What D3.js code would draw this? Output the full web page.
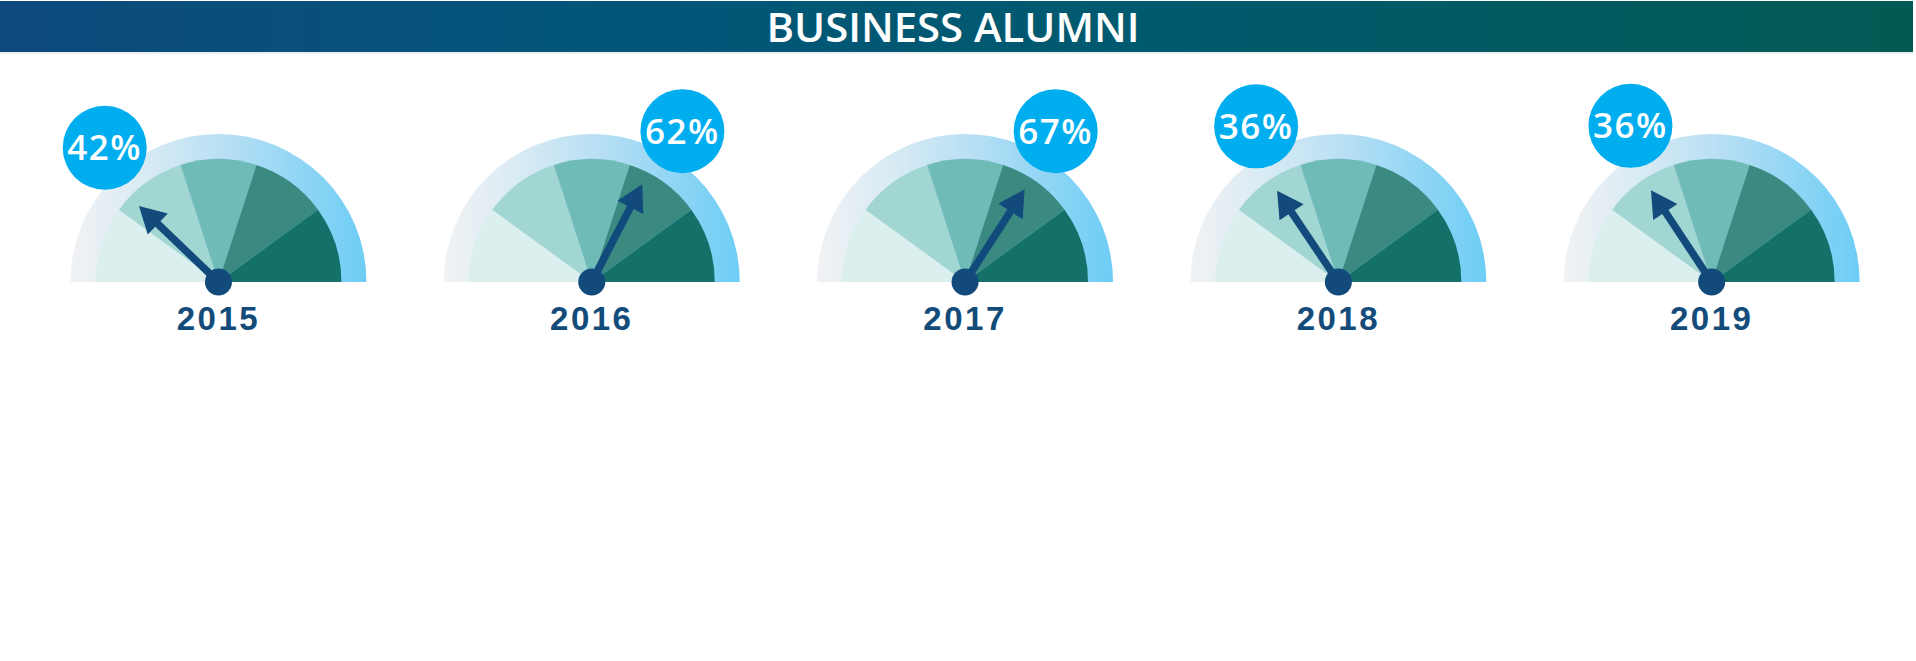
<!DOCTYPE html>
<html>
<head>
<meta charset="utf-8">
<script src="https://cdn.jsdelivr.net/npm/d3@7"></script>
<style>
  html, body { margin: 0; padding: 0; background: #ffffff; }
  svg { display: block; }
</style>
</head>
<body>
<div id="chart"></div>
<script>
// ---- data ----
const title = "BUSINESS ALUMNI";
const years = ["2015", "2016", "2017", "2018", "2019"];
const percentValues = [42, 62, 67, 36, 36];
// where each needle points on the 0–100 gauge dial
const needleReadings = [24.3, 65.2, 68.2, 31.2, 31.4];
const bandBreaks = [0, 20, 40, 60, 80, 100];
const bandColors = ["#dbefee", "#a2d6d3", "#6ebbb8", "#3a8a82", "#137169"];

// ---- layout ----
const W = 1916, H = 661;
const cy = 282;
const rOuter = 148, rInner = 123;
const needleLen = 110, headLen = 26, headHalf = 14.5, shaftW = 7.5;
const bubbleR = 42, bubbleDist = 176;
const navy = "#124a7c";

const svg = d3.select("#chart").append("svg")
  .attr("width", W).attr("height", H);

const defs = svg.append("defs");
const hg = defs.append("linearGradient").attr("id", "headerGrad")
  .attr("x1", "0%").attr("x2", "100%").attr("y1", "0%").attr("y2", "0%");
hg.append("stop").attr("offset", "0%").attr("stop-color", "#0e4a7c");
hg.append("stop").attr("offset", "30%").attr("stop-color", "#03557a");
hg.append("stop").attr("offset", "60%").attr("stop-color", "#005a6e");
hg.append("stop").attr("offset", "100%").attr("stop-color", "#035a54");

const rg = defs.append("linearGradient").attr("id", "ringGrad")
  .attr("x1", "0%").attr("x2", "100%").attr("y1", "0%").attr("y2", "0%");
rg.append("stop").attr("offset", "0%").attr("stop-color", "#f1f2f4");
rg.append("stop").attr("offset", "25%").attr("stop-color", "#d9ebf4");
rg.append("stop").attr("offset", "55%").attr("stop-color", "#b4def4");
rg.append("stop").attr("offset", "100%").attr("stop-color", "#6dcdf5");

// header
svg.append("rect").attr("x", 0).attr("y", 1).attr("width", 1913).attr("height", 51)
  .attr("fill", "url(#headerGrad)");
svg.append("rect").attr("x", 0).attr("y", 52).attr("width", 1913).attr("height", 2)
  .attr("fill", "#e9eff1");
svg.append("text")
  .attr("x", 953).attr("y", 41.5)
  .attr("text-anchor", "middle")
  .attr("font-family", "'Open Sans', 'Liberation Sans', sans-serif")
  .attr("font-weight", 600)
  .attr("font-size", 39)
  .attr("fill", "#ffffff")
  .attr("textLength", 373)
  .attr("lengthAdjust", "spacingAndGlyphs")
  .text(title);

// scales
const xScale = d3.scaleBand().domain(years).range([31.8, 1898.3]);
const angle = d3.scaleLinear().domain([0, 100]).range([-Math.PI / 2, Math.PI / 2]);

const ringArc = d3.arc().innerRadius(0).outerRadius(rOuter)
  .startAngle(angle(0)).endAngle(angle(100));
const bandArc = d3.arc().innerRadius(0).outerRadius(rInner);

const rows = years.map((y, i) => ({
  year: y, pct: percentValues[i], needle: needleReadings[i]
}));

const g = svg.selectAll("g.gauge").data(rows).join("g")
  .attr("class", "gauge")
  .attr("transform", d => `translate(${xScale(d.year) + xScale.bandwidth() / 2},${cy})`);

g.append("path").attr("d", ringArc()).attr("fill", "url(#ringGrad)");

g.selectAll("path.band")
  .data(bandColors.map((c, i) => ({ c, a0: bandBreaks[i], a1: bandBreaks[i + 1] })))
  .join("path")
  .attr("class", "band")
  .attr("d", b => bandArc({ startAngle: angle(b.a0), endAngle: angle(b.a1) }))
  .attr("fill", b => b.c);

// needle
const needle = g.append("g")
  .attr("transform", d => `rotate(${angle(d.needle) * 180 / Math.PI})`);
needle.append("rect")
  .attr("x", -shaftW / 2).attr("y", -(needleLen - headLen + 2))
  .attr("width", shaftW).attr("height", needleLen - headLen + 2)
  .attr("fill", navy);
needle.append("path")
  .attr("d", `M0,${-needleLen} L${-headHalf},${-needleLen + headLen} L${headHalf},${-needleLen + headLen} Z`)
  .attr("fill", navy);
g.append("circle").attr("r", 13.5).attr("fill", navy);

// year labels
g.append("text")
  .attr("x", 0).attr("y", 48)
  .attr("text-anchor", "middle")
  .attr("font-family", "'Liberation Sans', Arial, sans-serif")
  .attr("font-weight", "bold")
  .attr("font-size", 33)
  .attr("letter-spacing", 2.5)
  .attr("fill", "#134b7b")
  .text(d => d.year);

// value bubbles
const bubbleAngle = d => {
  const deg = Math.min((angle(d.needle) * 180 / Math.PI + 90) + 6, 121) - 90;
  return deg * Math.PI / 180;
};
const bub = g.append("g")
  .attr("transform", d => {
    const a = bubbleAngle(d);
    return `translate(${Math.sin(a) * bubbleDist},${-Math.cos(a) * bubbleDist})`;
  });
bub.append("circle").attr("r", bubbleR).attr("fill", "#00aeef");
bub.append("text")
  .attr("y", 12.5)
  .attr("text-anchor", "middle")
  .attr("font-family", "'Open Sans', 'Liberation Sans', sans-serif")
  .attr("font-weight", 600)
  .attr("font-size", 35)
  .attr("letter-spacing", 1.5)
  .attr("fill", "#ffffff")
  .text(d => d.pct + "%");
</script>
</body>
</html>
